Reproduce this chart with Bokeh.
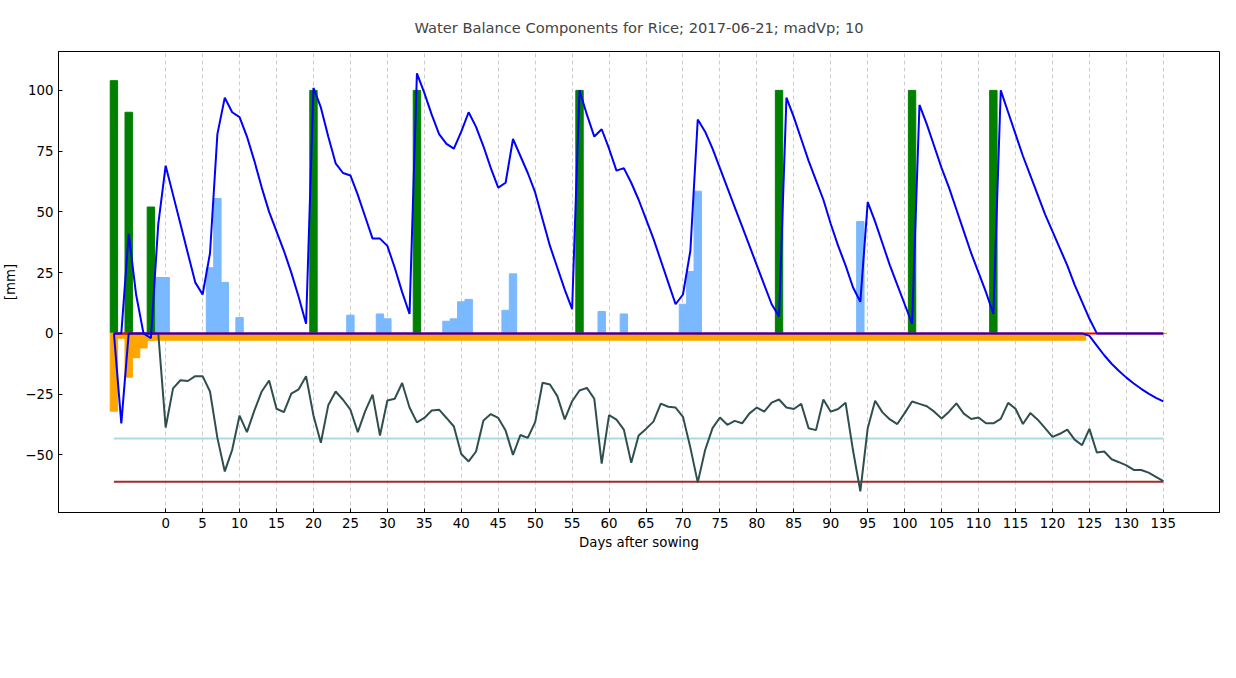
from bokeh.plotting import figure
from bokeh.models import Range1d, FixedTicker, Legend, LegendItem, Title
from bokeh.embed import file_html
from bokeh.resources import INLINE

# days after sowing, -7 .. 135
days = list(range(-7, 136))

TAW = [-61.0] * len(days)
DAW = [-43.2] * len(days)

# RAW (dark line), -7..135
RAW = [0, 0, 0, 0, 0, 0, 0,
       -38.7, -22.6, -19.3, -19.6, -17.6, -17.6, -23.9, -43, -56.8, -47.9,
       -33.8, -40.6, -31.8, -23.9, -19.4, -31, -32.4, -24.8, -23, -17.6,
       -33.8, -45, -29.6, -23.9, -27.3, -31.4, -40.6, -32, -25.2, -42,
       -27.6, -26.9, -20.4, -30.5, -36.6, -34.8, -31.7, -31.4, -34.8, -38.3,
       -49.6, -52.7, -48.6, -35.8, -33.2, -34.8, -40, -50, -41.8, -43,
       -36.5, -20.3, -21, -25.8, -35.4, -27.9, -23.5, -22.4, -26.9, -53.6,
       -33.6, -35.5, -39.6, -53.2, -42, -39.3, -36.3, -28.9, -30.2, -30.5,
       -34.3, -47, -61.3, -48, -39, -34.6, -37.6, -36, -37, -32.9,
       -30.5, -32.2, -28.5, -27.2, -30.5, -31.1, -29, -39, -39.8, -27.2,
       -32.2, -31.1, -28.5, -48, -65, -39, -27.7, -32.5, -35.4, -37.3,
       -32.8, -28, -29, -30, -32.2, -35, -32.2, -28.8, -33, -35.2,
       -34.6, -37, -37, -35.2, -28.6, -31, -37.3, -32.8, -35.5, -39,
       -42.6, -41.3, -39.6, -43.7, -46, -39.3, -49, -48.6, -51.8, -53,
       -54.3, -56.2, -56.2, -57.3, -59, -60.8]

Dr = [0.0] * len(days)

Ds = ([0, -37] + [0] * 130 +
      [-1, -5, -9, -12.5, -15.5, -18.2, -20.6, -22.8, -24.8, -26.5, -28])

Vp = [0, 0, 41, 16, 0, -2, 45,
      69, 57, 45, 33, 21, 16, 33, 82, 97, 91,
      89, 81, 71, 60, 50, 42, 34, 25, 15, 4,
      101, 93, 81, 70, 66, 65, 57, 48, 39, 39,
      36, 27, 17, 8, 107, 99, 90, 82, 78, 76,
      83, 91, 85, 77, 68, 60, 62, 80, 73, 66,
      58, 47, 36, 27, 18, 10, 100, 90, 81, 84,
      76, 67, 68, 62, 55, 47, 39, 30, 21, 12,
      16, 34, 88, 83, 76, 68, 60, 52, 44, 36,
      28, 20, 12, 7, 97, 89, 80, 71, 63, 55,
      45, 36, 28, 19, 13, 54, 46, 37, 28, 20,
      12, 4, 94, 86, 77, 68, 60, 51, 42, 33,
      25, 17, 8, 100, 91, 82, 73, 65, 57, 49,
      42, 35, 28, 20, 13, 6, 0, 0, 0, 0,
      0, 0, 0, 0, 0, 0]

rain_days = [-1, 0, 6, 7, 8, 10, 25, 29, 30, 38, 39, 40, 41, 46, 47, 59, 62, 70, 71, 72, 94]
rain_vals = [23, 23, 27, 55.5, 21, 6.5, 7.5, 8, 6, 5, 6, 13, 14, 9.5, 24.5, 9, 8, 12, 25.5, 58.5, 46]

irr_days = [-7, -5, -2, 20, 34, 56, 83, 101, 112]
irr_vals = [104, 91, 52, 100, 100, 100, 100, 100, 100]

runoff = [0.0] * len(days)
perc = [-32, -2, -18, -10, -6, -3] + [-2.8] * 126 + [0] * 11

p = figure(frame_width=1161, frame_height=461, output_backend="svg", toolbar_location=None,
           x_range=Range1d(-14.5, 142.6), y_range=Range1d(-73.7, 116),
           min_border_left=57, min_border_right=6, min_border_top=4, min_border_bottom=2)
p.add_layout(Title(text="Water Balance Components for Rice; 2017-06-21; madVp; 10",
                   align="center", text_font_size="11pt", text_font_style="normal",
                   text_font="DejaVu Sans", standoff=32), "above")

r_rain = p.vbar(x=rain_days, top=rain_vals, width=1.0, color="#7ab8ff")
r_irr = p.vbar(x=irr_days, top=irr_vals, width=1.0, color="green")
r_run = p.vbar(x=days, top=runoff, width=1.0, color="yellow")
r_perc = p.vbar(x=days, top=[0] * len(days), bottom=perc, width=1.0, color="orange")

r_taw = p.line(days, TAW, color="brown", line_width=2)
r_daw = p.line(days, DAW, color="lightblue", line_width=2)
r_raw = p.line(days, RAW, color="darkslategray", line_width=2)
r_dr = p.line(days, Dr, color="red", line_width=2)
r_ds = p.line(days, Ds, color="blue", line_width=2)
r_vp = p.line(days, Vp, color="blue", line_width=2)
r_blank = p.line([0], [0], line_alpha=0)

p.xaxis.ticker = FixedTicker(ticks=list(range(0, 136, 5)))
p.yaxis.ticker = FixedTicker(ticks=[-50, -25, 0, 25, 50, 75, 100])
p.xaxis.axis_label = "Days after sowing"
p.yaxis.axis_label = "[mm]"
for ax in (p.xaxis, p.yaxis):
    ax.major_tick_in = 4
    ax.major_tick_out = 0
    ax.minor_tick_in = 0
    ax.minor_tick_out = 0
    ax.major_label_text_font_size = "10pt"
    ax.major_label_text_font = "DejaVu Sans"
    ax.major_label_text_color = "black"
    ax.axis_label_text_font_size = "10pt"
    ax.axis_label_text_font = "DejaVu Sans"
    ax.axis_label_text_font_style = "normal"
    ax.axis_label_text_color = "black"
    ax.axis_label_standoff = 4
    ax.axis_line_color = "black"
p.ygrid.grid_line_color = None
p.xgrid.grid_line_color = "#cccccc"
p.xgrid.grid_line_dash = "4 3"
p.outline_line_color = "black"
p.outline_line_alpha = 1

legend = Legend(items=[
    LegendItem(label="TAW", renderers=[r_taw]),
    LegendItem(label="DAW", renderers=[r_daw]),
    LegendItem(label="RAW", renderers=[r_raw]),
    LegendItem(label="Dr", renderers=[r_dr]),
    LegendItem(label="Ds", renderers=[r_ds]),
    LegendItem(label="Vp", renderers=[r_vp]),
    LegendItem(label="Rainfall", renderers=[r_rain]),
    LegendItem(label=" ", renderers=[r_blank]),
    LegendItem(label="Irrigation", renderers=[r_irr]),
    LegendItem(label="Runoff", renderers=[r_run]),
    LegendItem(label="Percolation", renderers=[r_perc]),
], nrows=4, location="center", label_text_font_size="10pt",
   label_text_font="DejaVu Sans", spacing=2, glyph_height=14, glyph_width=28,
   label_height=16, label_width=70, padding=6, border_line_color="#cccccc",
   margin=4)
p.add_layout(legend, "below")

open("out.html", "w").write(file_html(p, INLINE))
